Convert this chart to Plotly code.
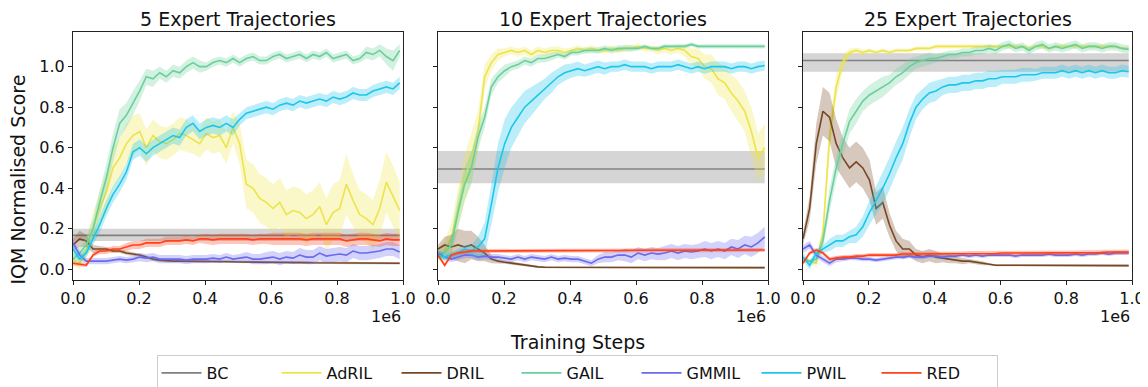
import numpy as np
import plotly.graph_objects as go

# ---------------- data ----------------
STEPS = np.linspace(0, 990000, 50)
PANEL_TITLES = ["5 Expert Trajectories", "10 Expert Trajectories", "25 Expert Trajectories"]
METHODS = ["BC", "AdRIL", "DRIL", "GAIL", "GMMIL", "PWIL", "RED"]
X_TICK_VALS = [0, 200000, 400000, 600000, 800000, 1000000]
X_TICK_TEXT = ["0.0", "0.2", "0.4", "0.6", "0.8", "1.0"]
Y_TICK_VALS = [0.0, 0.2, 0.4, 0.6, 0.8, 1.0]
Y_TICK_TEXT = ["0.0", "0.2", "0.4", "0.6", "0.8", "1.0"]

# BC (constant): mean, lower, upper
BC_5 = [0.167, 0.14, 0.20]
BC_10 = [0.495, 0.424, 0.584]
BC_25 = [1.03, 0.975, 1.066]

# ----- 5 trajectories -----
ADRIL_5 = [0.05, 0.03, 0.10, 0.20, 0.30, 0.38, 0.50, 0.55, 0.62, 0.66,
           0.68, 0.60, 0.66, 0.63, 0.62, 0.64, 0.67, 0.66, 0.64, 0.62,
           0.67, 0.65, 0.66, 0.60, 0.70, 0.62, 0.42, 0.40, 0.35, 0.33,
           0.30, 0.33, 0.27, 0.29, 0.28, 0.25, 0.27, 0.31, 0.22, 0.28,
           0.30, 0.42, 0.34, 0.27, 0.25, 0.22, 0.30, 0.43, 0.36, 0.29]
ADRIL_5_HW = [0.03, 0.03, 0.05, 0.08, 0.08, 0.10, 0.10, 0.10, 0.10, 0.10,
              0.09, 0.09, 0.08, 0.08, 0.08, 0.08, 0.08, 0.08, 0.07, 0.07,
              0.08, 0.08, 0.08, 0.08, 0.08, 0.10, 0.12, 0.12, 0.12, 0.12,
              0.12, 0.12, 0.12, 0.12, 0.12, 0.12, 0.12, 0.12, 0.13, 0.14,
              0.14, 0.15, 0.13, 0.12, 0.12, 0.12, 0.14, 0.15, 0.15, 0.14]
DRIL_5 = [0.12, 0.15, 0.14, 0.10, 0.10, 0.10, 0.09, 0.09, 0.08, 0.075,
          0.07, 0.06, 0.05, 0.045, 0.042, 0.04, 0.04, 0.04, 0.04, 0.04,
          0.04, 0.038, 0.038, 0.038, 0.037, 0.036, 0.036, 0.035, 0.035, 0.035,
          0.034, 0.034, 0.034, 0.033, 0.033, 0.033, 0.032, 0.032, 0.032, 0.032,
          0.031, 0.031, 0.031, 0.030, 0.030, 0.030, 0.030, 0.030, 0.030, 0.030]
DRIL_5_HW = [0.03, 0.04, 0.03, 0.02, 0.015, 0.01, 0.01, 0.01, 0.01, 0.01,
             0.008, 0.008, 0.008, 0.008, 0.008, 0.008, 0.008, 0.008, 0.008, 0.008,
             0.006, 0.006, 0.006, 0.006, 0.006, 0.006, 0.006, 0.006, 0.006, 0.006,
             0.006, 0.006, 0.006, 0.006, 0.006, 0.006, 0.006, 0.006, 0.006, 0.006,
             0.006, 0.006, 0.006, 0.006, 0.006, 0.006, 0.006, 0.006, 0.006, 0.006]
GAIL_5 = [0.05, 0.08, 0.12, 0.20, 0.33, 0.45, 0.60, 0.72, 0.76, 0.82,
          0.88, 0.95, 0.94, 0.97, 0.95, 0.98, 0.97, 1.00, 1.02, 1.00,
          1.00, 1.02, 1.03, 1.02, 1.04, 1.02, 1.04, 1.05, 1.03, 1.03,
          1.05, 1.06, 1.04, 1.05, 1.06, 1.04, 1.06, 1.05, 1.07, 1.04,
          1.05, 1.06, 1.03, 1.04, 1.07, 1.06, 1.08, 1.05, 1.03, 1.08]
GAIL_5_HW = [0.02, 0.03, 0.04, 0.05, 0.06, 0.07, 0.07, 0.07, 0.06, 0.06,
             0.05, 0.04, 0.04, 0.03, 0.03, 0.03, 0.03, 0.03, 0.03, 0.03,
             0.02, 0.02, 0.02, 0.02, 0.02, 0.02, 0.02, 0.02, 0.02, 0.02,
             0.02, 0.02, 0.02, 0.02, 0.02, 0.02, 0.02, 0.02, 0.02, 0.02,
             0.02, 0.02, 0.02, 0.02, 0.03, 0.03, 0.03, 0.04, 0.05, 0.03]
GMMIL_5 = [0.13, 0.07, 0.04, 0.04, 0.04, 0.04, 0.045, 0.05, 0.045, 0.05,
           0.06, 0.055, 0.06, 0.05, 0.05, 0.05, 0.05, 0.045, 0.05, 0.05,
           0.05, 0.055, 0.05, 0.06, 0.05, 0.055, 0.06, 0.05, 0.05, 0.055,
           0.06, 0.05, 0.06, 0.055, 0.07, 0.06, 0.06, 0.08, 0.065, 0.07,
           0.075, 0.07, 0.09, 0.08, 0.08, 0.085, 0.09, 0.10, 0.10, 0.085]
GMMIL_5_HW = [0.02, 0.02, 0.015, 0.015, 0.015, 0.015, 0.015, 0.015, 0.015, 0.015,
              0.02, 0.02, 0.02, 0.02, 0.02, 0.02, 0.02, 0.02, 0.02, 0.02,
              0.02, 0.02, 0.02, 0.02, 0.02, 0.02, 0.025, 0.025, 0.025, 0.03,
              0.03, 0.03, 0.03, 0.03, 0.035, 0.035, 0.035, 0.035, 0.035, 0.035,
              0.035, 0.035, 0.035, 0.035, 0.035, 0.035, 0.035, 0.035, 0.035, 0.035]
PWIL_5 = [0.10, 0.05, 0.08, 0.15, 0.22, 0.30, 0.37, 0.42, 0.48, 0.58,
          0.60, 0.57, 0.60, 0.62, 0.64, 0.66, 0.65, 0.70, 0.72, 0.68,
          0.70, 0.71, 0.70, 0.72, 0.70, 0.74, 0.77, 0.78, 0.79, 0.80,
          0.79, 0.81, 0.82, 0.81, 0.83, 0.82, 0.83, 0.84, 0.83, 0.85,
          0.84, 0.85, 0.87, 0.86, 0.86, 0.88, 0.89, 0.90, 0.89, 0.92]
PWIL_5_HW = [0.02, 0.02, 0.02, 0.03, 0.04, 0.04, 0.04, 0.04, 0.04, 0.04,
             0.04, 0.04, 0.04, 0.04, 0.04, 0.04, 0.04, 0.04, 0.04, 0.04,
             0.04, 0.04, 0.04, 0.04, 0.04, 0.03, 0.03, 0.03, 0.03, 0.03,
             0.03, 0.03, 0.03, 0.03, 0.03, 0.03, 0.03, 0.03, 0.03, 0.03,
             0.03, 0.03, 0.03, 0.03, 0.03, 0.03, 0.03, 0.03, 0.03, 0.03]
RED_5 = [0.03, 0.025, 0.02, 0.07, 0.09, 0.09, 0.10, 0.10, 0.11, 0.12,
         0.12, 0.13, 0.13, 0.13, 0.14, 0.14, 0.14, 0.145, 0.14, 0.15,
         0.15, 0.145, 0.15, 0.15, 0.15, 0.15, 0.15, 0.145, 0.15, 0.15,
         0.15, 0.15, 0.15, 0.15, 0.15, 0.145, 0.15, 0.15, 0.15, 0.15,
         0.15, 0.14, 0.145, 0.15, 0.15, 0.145, 0.14, 0.15, 0.145, 0.145]
RED_5_HW = [0.01, 0.01, 0.01, 0.01, 0.015, 0.015, 0.015, 0.015, 0.02, 0.02,
            0.02, 0.02, 0.02, 0.02, 0.02, 0.02, 0.02, 0.02, 0.02, 0.02,
            0.025, 0.025, 0.025, 0.025, 0.025, 0.025, 0.025, 0.025, 0.025, 0.025,
            0.03, 0.03, 0.03, 0.03, 0.03, 0.03, 0.03, 0.03, 0.03, 0.03,
            0.03, 0.03, 0.03, 0.03, 0.03, 0.03, 0.03, 0.03, 0.03, 0.03]

# ----- 10 trajectories -----
ADRIL_10 = [0.07, 0.09, 0.15, 0.30, 0.45, 0.55, 0.68, 0.95, 1.02, 1.06,
            1.07, 1.08, 1.07, 1.08, 1.06, 1.08, 1.07, 1.08, 1.08, 1.07,
            1.08, 1.09, 1.08, 1.09, 1.08, 1.08, 1.09, 1.08, 1.09, 1.09,
            1.10, 1.09, 1.09, 1.08, 1.09, 1.08, 1.09, 1.08, 1.05, 1.04,
            1.00, 0.99, 0.94, 0.92, 0.87, 0.83, 0.78, 0.68, 0.55, 0.60]
ADRIL_10_HW = [0.03, 0.05, 0.08, 0.10, 0.12, 0.12, 0.10, 0.06, 0.04, 0.03,
               0.02, 0.02, 0.02, 0.02, 0.02, 0.02, 0.02, 0.02, 0.02, 0.02,
               0.015, 0.015, 0.015, 0.015, 0.015, 0.015, 0.015, 0.015, 0.015, 0.015,
               0.015, 0.015, 0.015, 0.02, 0.02, 0.02, 0.02, 0.03, 0.04, 0.05,
               0.06, 0.07, 0.08, 0.08, 0.09, 0.10, 0.10, 0.12, 0.12, 0.12]
DRIL_10 = [0.10, 0.12, 0.11, 0.12, 0.11, 0.12, 0.10, 0.08, 0.05, 0.04,
           0.035, 0.03, 0.025, 0.02, 0.015, 0.012, 0.01, 0.01, 0.01, 0.01,
           0.01, 0.01, 0.01, 0.009, 0.009, 0.009, 0.009, 0.009, 0.009, 0.009,
           0.008, 0.008, 0.008, 0.008, 0.008, 0.008, 0.008, 0.008, 0.008, 0.008,
           0.008, 0.008, 0.008, 0.008, 0.008, 0.008, 0.008, 0.008, 0.008, 0.008]
DRIL_10_HW = [0.02, 0.04, 0.06, 0.08, 0.08, 0.07, 0.06, 0.04, 0.02, 0.01,
              0.008, 0.008, 0.006, 0.006, 0.005, 0.005, 0.005, 0.005, 0.005, 0.005,
              0.005, 0.005, 0.005, 0.005, 0.005, 0.005, 0.005, 0.005, 0.005, 0.005,
              0.005, 0.005, 0.005, 0.005, 0.005, 0.005, 0.005, 0.005, 0.005, 0.005,
              0.005, 0.005, 0.005, 0.005, 0.005, 0.005, 0.005, 0.005, 0.005, 0.005]
GAIL_10 = [0.07, 0.08, 0.12, 0.28, 0.42, 0.50, 0.65, 0.75, 0.90, 0.95,
           0.98, 1.00, 1.01, 1.03, 1.02, 1.04, 1.04, 1.05, 1.06, 1.05,
           1.07, 1.07, 1.08, 1.08, 1.08, 1.09, 1.08, 1.09, 1.09, 1.09,
           1.09, 1.10, 1.09, 1.09, 1.10, 1.10, 1.10, 1.10, 1.11, 1.10,
           1.10, 1.10, 1.10, 1.10, 1.10, 1.10, 1.10, 1.10, 1.10, 1.10]
GAIL_10_HW = [0.02, 0.03, 0.05, 0.08, 0.08, 0.08, 0.06, 0.05, 0.04, 0.03,
              0.03, 0.02, 0.02, 0.02, 0.02, 0.02, 0.02, 0.02, 0.015, 0.015,
              0.015, 0.015, 0.015, 0.015, 0.015, 0.015, 0.015, 0.015, 0.015, 0.015,
              0.01, 0.01, 0.01, 0.01, 0.01, 0.01, 0.01, 0.01, 0.01, 0.01,
              0.01, 0.01, 0.01, 0.01, 0.01, 0.01, 0.01, 0.01, 0.01, 0.01]
GMMIL_10 = [0.08, 0.06, 0.05, 0.06, 0.07, 0.07, 0.06, 0.065, 0.06, 0.06,
            0.055, 0.05, 0.06, 0.05, 0.06, 0.055, 0.05, 0.06, 0.05, 0.055,
            0.05, 0.05, 0.04, 0.03, 0.05, 0.06, 0.06, 0.07, 0.07, 0.06,
            0.08, 0.07, 0.08, 0.075, 0.08, 0.09, 0.08, 0.09, 0.085, 0.09,
            0.10, 0.09, 0.10, 0.09, 0.11, 0.10, 0.12, 0.11, 0.13, 0.16]
GMMIL_10_HW = [0.015, 0.015, 0.015, 0.015, 0.015, 0.015, 0.015, 0.015, 0.015, 0.015,
               0.015, 0.015, 0.015, 0.015, 0.015, 0.015, 0.015, 0.015, 0.015, 0.015,
               0.015, 0.015, 0.015, 0.015, 0.02, 0.025, 0.025, 0.025, 0.03, 0.03,
               0.03, 0.03, 0.03, 0.03, 0.035, 0.035, 0.035, 0.035, 0.035, 0.035,
               0.04, 0.04, 0.04, 0.04, 0.04, 0.045, 0.045, 0.05, 0.05, 0.05]
PWIL_10 = [0.07, 0.06, 0.07, 0.08, 0.10, 0.09, 0.11, 0.15, 0.32, 0.50,
           0.62, 0.70, 0.75, 0.80, 0.83, 0.86, 0.89, 0.92, 0.95, 0.97,
           0.98, 0.99, 0.98, 0.99, 1.00, 0.99, 1.00, 1.00, 1.01, 1.00,
           1.00, 1.00, 0.99, 1.00, 1.00, 1.00, 1.01, 1.00, 0.99, 1.00,
           0.99, 1.00, 1.00, 1.00, 0.99, 1.00, 1.00, 0.99, 1.00, 1.005]
PWIL_10_HW = [0.015, 0.015, 0.015, 0.02, 0.02, 0.03, 0.05, 0.08, 0.10, 0.12,
              0.12, 0.10, 0.09, 0.08, 0.07, 0.06, 0.05, 0.05, 0.04, 0.04,
              0.035, 0.035, 0.03, 0.03, 0.03, 0.03, 0.025, 0.025, 0.025, 0.025,
              0.025, 0.025, 0.025, 0.025, 0.025, 0.025, 0.025, 0.025, 0.025, 0.025,
              0.025, 0.025, 0.025, 0.025, 0.025, 0.025, 0.025, 0.025, 0.025, 0.025]
RED_10 = [0.07, 0.02, 0.07, 0.08, 0.085, 0.09, 0.09, 0.09, 0.09, 0.09,
          0.09, 0.09, 0.09, 0.09, 0.092, 0.092, 0.092, 0.092, 0.092, 0.092,
          0.093, 0.093, 0.093, 0.093, 0.093, 0.093, 0.093, 0.093, 0.093, 0.094,
          0.094, 0.094, 0.094, 0.094, 0.094, 0.094, 0.094, 0.095, 0.095, 0.095,
          0.095, 0.095, 0.095, 0.095, 0.095, 0.095, 0.095, 0.095, 0.095, 0.095]
RED_10_HW = [0.01, 0.01, 0.01, 0.01, 0.01, 0.01, 0.01, 0.01, 0.01, 0.01,
             0.01, 0.01, 0.01, 0.01, 0.01, 0.01, 0.01, 0.01, 0.01, 0.01,
             0.01, 0.01, 0.01, 0.01, 0.01, 0.01, 0.01, 0.01, 0.01, 0.01,
             0.01, 0.01, 0.01, 0.01, 0.01, 0.01, 0.01, 0.01, 0.01, 0.01,
             0.01, 0.01, 0.01, 0.01, 0.01, 0.01, 0.01, 0.01, 0.01, 0.01]

# ----- 25 trajectories -----
ADRIL_25 = [0.05, 0.04, 0.03, 0.18, 0.65, 0.90, 1.02, 1.07, 1.08, 1.07,
            1.08, 1.07, 1.08, 1.07, 1.08, 1.08, 1.08, 1.09, 1.09, 1.09,
            1.10, 1.10, 1.10, 1.10, 1.10, 1.10, 1.10, 1.10, 1.10, 1.10,
            1.10, 1.10, 1.10, 1.10, 1.09, 1.10, 1.10, 1.09, 1.10, 1.10,
            1.10, 1.10, 1.10, 1.10, 1.10, 1.10, 1.10, 1.10, 1.09, 1.09]
ADRIL_25_HW = [0.01, 0.01, 0.02, 0.05, 0.08, 0.06, 0.04, 0.02, 0.015, 0.015,
               0.01, 0.01, 0.01, 0.01, 0.01, 0.01, 0.01, 0.01, 0.01, 0.01,
               0.01, 0.01, 0.01, 0.01, 0.01, 0.01, 0.01, 0.01, 0.01, 0.01,
               0.01, 0.01, 0.01, 0.01, 0.01, 0.01, 0.01, 0.01, 0.01, 0.01,
               0.01, 0.01, 0.01, 0.01, 0.01, 0.01, 0.01, 0.01, 0.01, 0.01]
DRIL_25 = [0.15, 0.30, 0.62, 0.78, 0.75, 0.62, 0.55, 0.50, 0.53, 0.50,
           0.44, 0.30, 0.33, 0.22, 0.14, 0.10, 0.10, 0.07, 0.06, 0.07,
           0.06, 0.055, 0.05, 0.045, 0.04, 0.04, 0.035, 0.03, 0.025, 0.02,
           0.02, 0.02, 0.02, 0.02, 0.02, 0.02, 0.02, 0.02, 0.018, 0.018,
           0.018, 0.018, 0.018, 0.018, 0.018, 0.018, 0.018, 0.018, 0.018, 0.018]
DRIL_25_HW = [0.03, 0.06, 0.10, 0.12, 0.12, 0.12, 0.10, 0.10, 0.10, 0.10,
              0.10, 0.08, 0.08, 0.06, 0.05, 0.05, 0.04, 0.03, 0.03, 0.03,
              0.03, 0.02, 0.02, 0.015, 0.015, 0.01, 0.01, 0.01, 0.005, 0.005,
              0.005, 0.005, 0.005, 0.005, 0.005, 0.005, 0.005, 0.005, 0.005, 0.005,
              0.005, 0.005, 0.005, 0.005, 0.005, 0.005, 0.005, 0.005, 0.005, 0.005]
GAIL_25 = [0.05, 0.04, 0.05, 0.14, 0.34, 0.50, 0.62, 0.73, 0.78, 0.83,
           0.86, 0.88, 0.90, 0.92, 0.95, 0.97, 1.00, 1.02, 1.03, 1.04,
           1.04, 1.05, 1.06, 1.06, 1.07, 1.07, 1.08, 1.08, 1.09, 1.08,
           1.10, 1.11, 1.09, 1.10, 1.08, 1.10, 1.11, 1.09, 1.10, 1.09,
           1.10, 1.11, 1.09, 1.10, 1.10, 1.09, 1.10, 1.10, 1.09, 1.085]
GAIL_25_HW = [0.01, 0.01, 0.02, 0.04, 0.06, 0.06, 0.06, 0.06, 0.06, 0.05,
              0.05, 0.05, 0.05, 0.04, 0.04, 0.04, 0.04, 0.03, 0.03, 0.03,
              0.02, 0.02, 0.02, 0.02, 0.02, 0.02, 0.02, 0.02, 0.02, 0.02,
              0.02, 0.02, 0.02, 0.02, 0.02, 0.02, 0.02, 0.02, 0.02, 0.02,
              0.02, 0.02, 0.02, 0.02, 0.02, 0.02, 0.02, 0.02, 0.02, 0.02]
GMMIL_25 = [0.10, 0.12, 0.07, 0.05, 0.03, 0.05, 0.05, 0.055, 0.055, 0.05,
            0.05, 0.045, 0.05, 0.055, 0.06, 0.06, 0.065, 0.06, 0.06, 0.065,
            0.065, 0.06, 0.065, 0.065, 0.07, 0.065, 0.07, 0.065, 0.07, 0.07,
            0.07, 0.07, 0.065, 0.07, 0.07, 0.07, 0.07, 0.075, 0.07, 0.07,
            0.07, 0.075, 0.07, 0.075, 0.075, 0.08, 0.075, 0.08, 0.08, 0.08]
GMMIL_25_HW = [0.02, 0.02, 0.015, 0.015, 0.015, 0.015, 0.01, 0.01, 0.01, 0.01,
               0.01, 0.01, 0.01, 0.01, 0.01, 0.01, 0.01, 0.01, 0.01, 0.01,
               0.01, 0.01, 0.01, 0.01, 0.01, 0.01, 0.01, 0.01, 0.01, 0.01,
               0.01, 0.01, 0.01, 0.01, 0.01, 0.01, 0.01, 0.01, 0.01, 0.01,
               0.01, 0.01, 0.01, 0.01, 0.01, 0.01, 0.01, 0.01, 0.01, 0.01]
PWIL_25 = [0.06, 0.02, 0.08, 0.10, 0.12, 0.14, 0.14, 0.16, 0.17, 0.21,
           0.28, 0.34, 0.40, 0.47, 0.55, 0.62, 0.72, 0.80, 0.84, 0.87,
           0.88, 0.90, 0.91, 0.91, 0.92, 0.92, 0.93, 0.93, 0.94, 0.94,
           0.95, 0.95, 0.95, 0.96, 0.96, 0.96, 0.97, 0.97, 0.97, 0.98,
           0.97, 0.98, 0.97, 0.98, 0.97, 0.98, 0.97, 0.97, 0.98, 0.975]
PWIL_25_HW = [0.02, 0.02, 0.02, 0.02, 0.03, 0.03, 0.03, 0.03, 0.04, 0.05,
              0.06, 0.07, 0.08, 0.08, 0.08, 0.08, 0.07, 0.06, 0.05, 0.05,
              0.05, 0.04, 0.04, 0.04, 0.04, 0.04, 0.04, 0.04, 0.04, 0.04,
              0.035, 0.035, 0.035, 0.035, 0.035, 0.03, 0.03, 0.03, 0.03, 0.03,
              0.03, 0.03, 0.03, 0.03, 0.03, 0.03, 0.03, 0.03, 0.03, 0.03]
RED_25 = [0.03, 0.08, 0.095, 0.08, 0.05, 0.055, 0.06, 0.06, 0.065, 0.065,
          0.07, 0.07, 0.07, 0.07, 0.07, 0.075, 0.075, 0.075, 0.075, 0.075,
          0.075, 0.075, 0.075, 0.075, 0.078, 0.078, 0.078, 0.078, 0.078, 0.078,
          0.08, 0.08, 0.08, 0.08, 0.08, 0.08, 0.08, 0.08, 0.08, 0.08,
          0.08, 0.08, 0.082, 0.082, 0.082, 0.082, 0.085, 0.085, 0.085, 0.085]
RED_25_HW = [0.01, 0.01, 0.01, 0.01, 0.01, 0.01, 0.01, 0.01, 0.01, 0.01,
             0.01, 0.01, 0.01, 0.01, 0.01, 0.01, 0.01, 0.01, 0.01, 0.01,
             0.01, 0.01, 0.01, 0.01, 0.01, 0.012, 0.012, 0.012, 0.012, 0.012,
             0.012, 0.012, 0.012, 0.012, 0.012, 0.012, 0.012, 0.012, 0.012, 0.012,
             0.012, 0.012, 0.012, 0.012, 0.012, 0.012, 0.012, 0.012, 0.012, 0.012]

COLORS = {"BC": "#808080", "AdRIL": "#ede44c", "DRIL": "#774826", "GAIL": "#6acf9c",
          "GMMIL": "#6a6aee", "PWIL": "#1ec6ec", "RED": "#ff4018"}

PANELS = [
    {"BC": BC_5, "AdRIL": (ADRIL_5, ADRIL_5_HW), "DRIL": (DRIL_5, DRIL_5_HW),
     "GAIL": (GAIL_5, GAIL_5_HW), "GMMIL": (GMMIL_5, GMMIL_5_HW),
     "PWIL": (PWIL_5, PWIL_5_HW), "RED": (RED_5, RED_5_HW)},
    {"BC": BC_10, "AdRIL": (ADRIL_10, ADRIL_10_HW), "DRIL": (DRIL_10, DRIL_10_HW),
     "GAIL": (GAIL_10, GAIL_10_HW), "GMMIL": (GMMIL_10, GMMIL_10_HW),
     "PWIL": (PWIL_10, PWIL_10_HW), "RED": (RED_10, RED_10_HW)},
    {"BC": BC_25, "AdRIL": (ADRIL_25, ADRIL_25_HW), "DRIL": (DRIL_25, DRIL_25_HW),
     "GAIL": (GAIL_25, GAIL_25_HW), "GMMIL": (GMMIL_25, GMMIL_25_HW),
     "PWIL": (PWIL_25, PWIL_25_HW), "RED": (RED_25, RED_25_HW)},
]

# ---------------- figure ----------------
# the page body has an 8px margin, so figure pixel = screen pixel - 8
W, H = 1140, 387
OFF = 8
FONT = "DejaVu Sans"
X_PIX = [(73 - OFF, 403 - OFF), (438 - OFF, 768 - OFF), (803 - OFF, 1132 - OFF)]
Y_TOP, Y_BOT = 32 - OFF, 280 - OFF


def rgba(hexc, a):
    h = hexc.lstrip("#")
    return "rgba(%d,%d,%d,%.2f)" % (int(h[0:2], 16), int(h[2:4], 16), int(h[4:6], 16), a)


fig = go.Figure()
steps = np.asarray(STEPS)
for p, panel in enumerate(PANELS):
    xa = "x" if p == 0 else "x%d" % (p + 1)
    ya = "y" if p == 0 else "y%d" % (p + 1)
    for m in METHODS:
        col = COLORS[m]
        if m == "BC":
            mean, lo, hi = panel["BC"]
            xs = [steps[0], steps[-1]]
            fig.add_trace(go.Scatter(x=[xs[0], xs[1], xs[1], xs[0]], y=[hi, hi, lo, lo],
                                     fill="toself", fillcolor=rgba(col, 0.33), line=dict(width=0),
                                     mode="lines", showlegend=False, hoverinfo="skip",
                                     xaxis=xa, yaxis=ya))
            fig.add_trace(go.Scatter(x=xs, y=[mean, mean], mode="lines",
                                     line=dict(color=col, width=1.6), name=m, legendgroup=m,
                                     showlegend=(p == 0), xaxis=xa, yaxis=ya))
            continue
        vals, hw = panel[m]
        vals = np.asarray(vals, dtype=float)
        hw = np.asarray(hw, dtype=float)
        up = vals + hw
        lo = vals - hw
        fig.add_trace(go.Scatter(x=np.concatenate([steps, steps[::-1]]),
                                 y=np.concatenate([up, lo[::-1]]),
                                 fill="toself", fillcolor=rgba(col, 0.3), line=dict(width=0),
                                 mode="lines", showlegend=False, hoverinfo="skip",
                                 xaxis=xa, yaxis=ya))
        fig.add_trace(go.Scatter(x=steps, y=vals, mode="lines",
                                 line=dict(color=col, width=1.6), name=m, legendgroup=m,
                                 showlegend=(p == 0), xaxis=xa, yaxis=ya))

axis_common = dict(showline=True, mirror=True, linecolor="#222", linewidth=1,
                   ticks="outside", ticklen=4, tickwidth=1, tickcolor="#222",
                   showgrid=False, zeroline=False, automargin=False,
                   tickfont=dict(family=FONT, size=16, color="#111"))
layout = dict(width=W, height=H, margin=dict(l=0, r=0, t=0, b=0, autoexpand=False),
              plot_bgcolor="white", paper_bgcolor="white",
              font=dict(family=FONT, color="#111"))
annotations = []
for p in range(3):
    xk = "xaxis" if p == 0 else "xaxis%d" % (p + 1)
    yk = "yaxis" if p == 0 else "yaxis%d" % (p + 1)
    x0, x1 = X_PIX[p]
    layout[xk] = dict(domain=[x0 / W, x1 / W], range=[0, 1000000],
                      tickvals=X_TICK_VALS, ticktext=X_TICK_TEXT,
                      anchor="y" if p == 0 else "y%d" % (p + 1), **axis_common)
    layout[yk] = dict(domain=[1 - Y_BOT / H, 1 - Y_TOP / H], range=[-0.053, 1.171],
                      tickvals=Y_TICK_VALS, ticktext=Y_TICK_TEXT, showticklabels=(p == 0),
                      anchor="x" if p == 0 else "x%d" % (p + 1), **axis_common)
    annotations.append(dict(text=PANEL_TITLES[p], x=(x0 + x1) / 2 / W, y=1.0,
                            xref="paper", yref="paper", showarrow=False,
                            xanchor="center", yanchor="top", borderpad=0, borderwidth=0,
                            font=dict(family=FONT, size=19, color="#111")))
    annotations.append(dict(text="1e6", x=x1 / W, y=1 - (316 - OFF) / H, xref="paper",
                            yref="paper", showarrow=False, xanchor="right", yanchor="middle",
                            font=dict(family=FONT, size=16, color="#111")))
annotations.append(dict(text="IQM Normalised Score", x=(17.5 - OFF) / W, y=1 - (180 - OFF) / H,
                        xref="paper", yref="paper", showarrow=False, textangle=-90,
                        xanchor="center", yanchor="middle",
                        font=dict(family=FONT, size=19, color="#111")))
annotations.append(dict(text="Training Steps", x=(577 - OFF) / W, y=1 - (342 - OFF) / H,
                        xref="paper", yref="paper", showarrow=False, xanchor="center",
                        yanchor="middle", font=dict(family=FONT, size=19, color="#111")))
layout["annotations"] = annotations
layout["legend"] = dict(orientation="h", x=(577 - OFF) / W, xanchor="center",
                        y=1 - (373 - OFF) / H, yanchor="middle",
                        bordercolor="#cccccc", borderwidth=1,
                        bgcolor="white", font=dict(family=FONT, size=16, color="#111"),
                        entrywidth=65, entrywidthmode="pixels", itemwidth=40)
fig.update_layout(**layout)
fig.write_html("out.html")
